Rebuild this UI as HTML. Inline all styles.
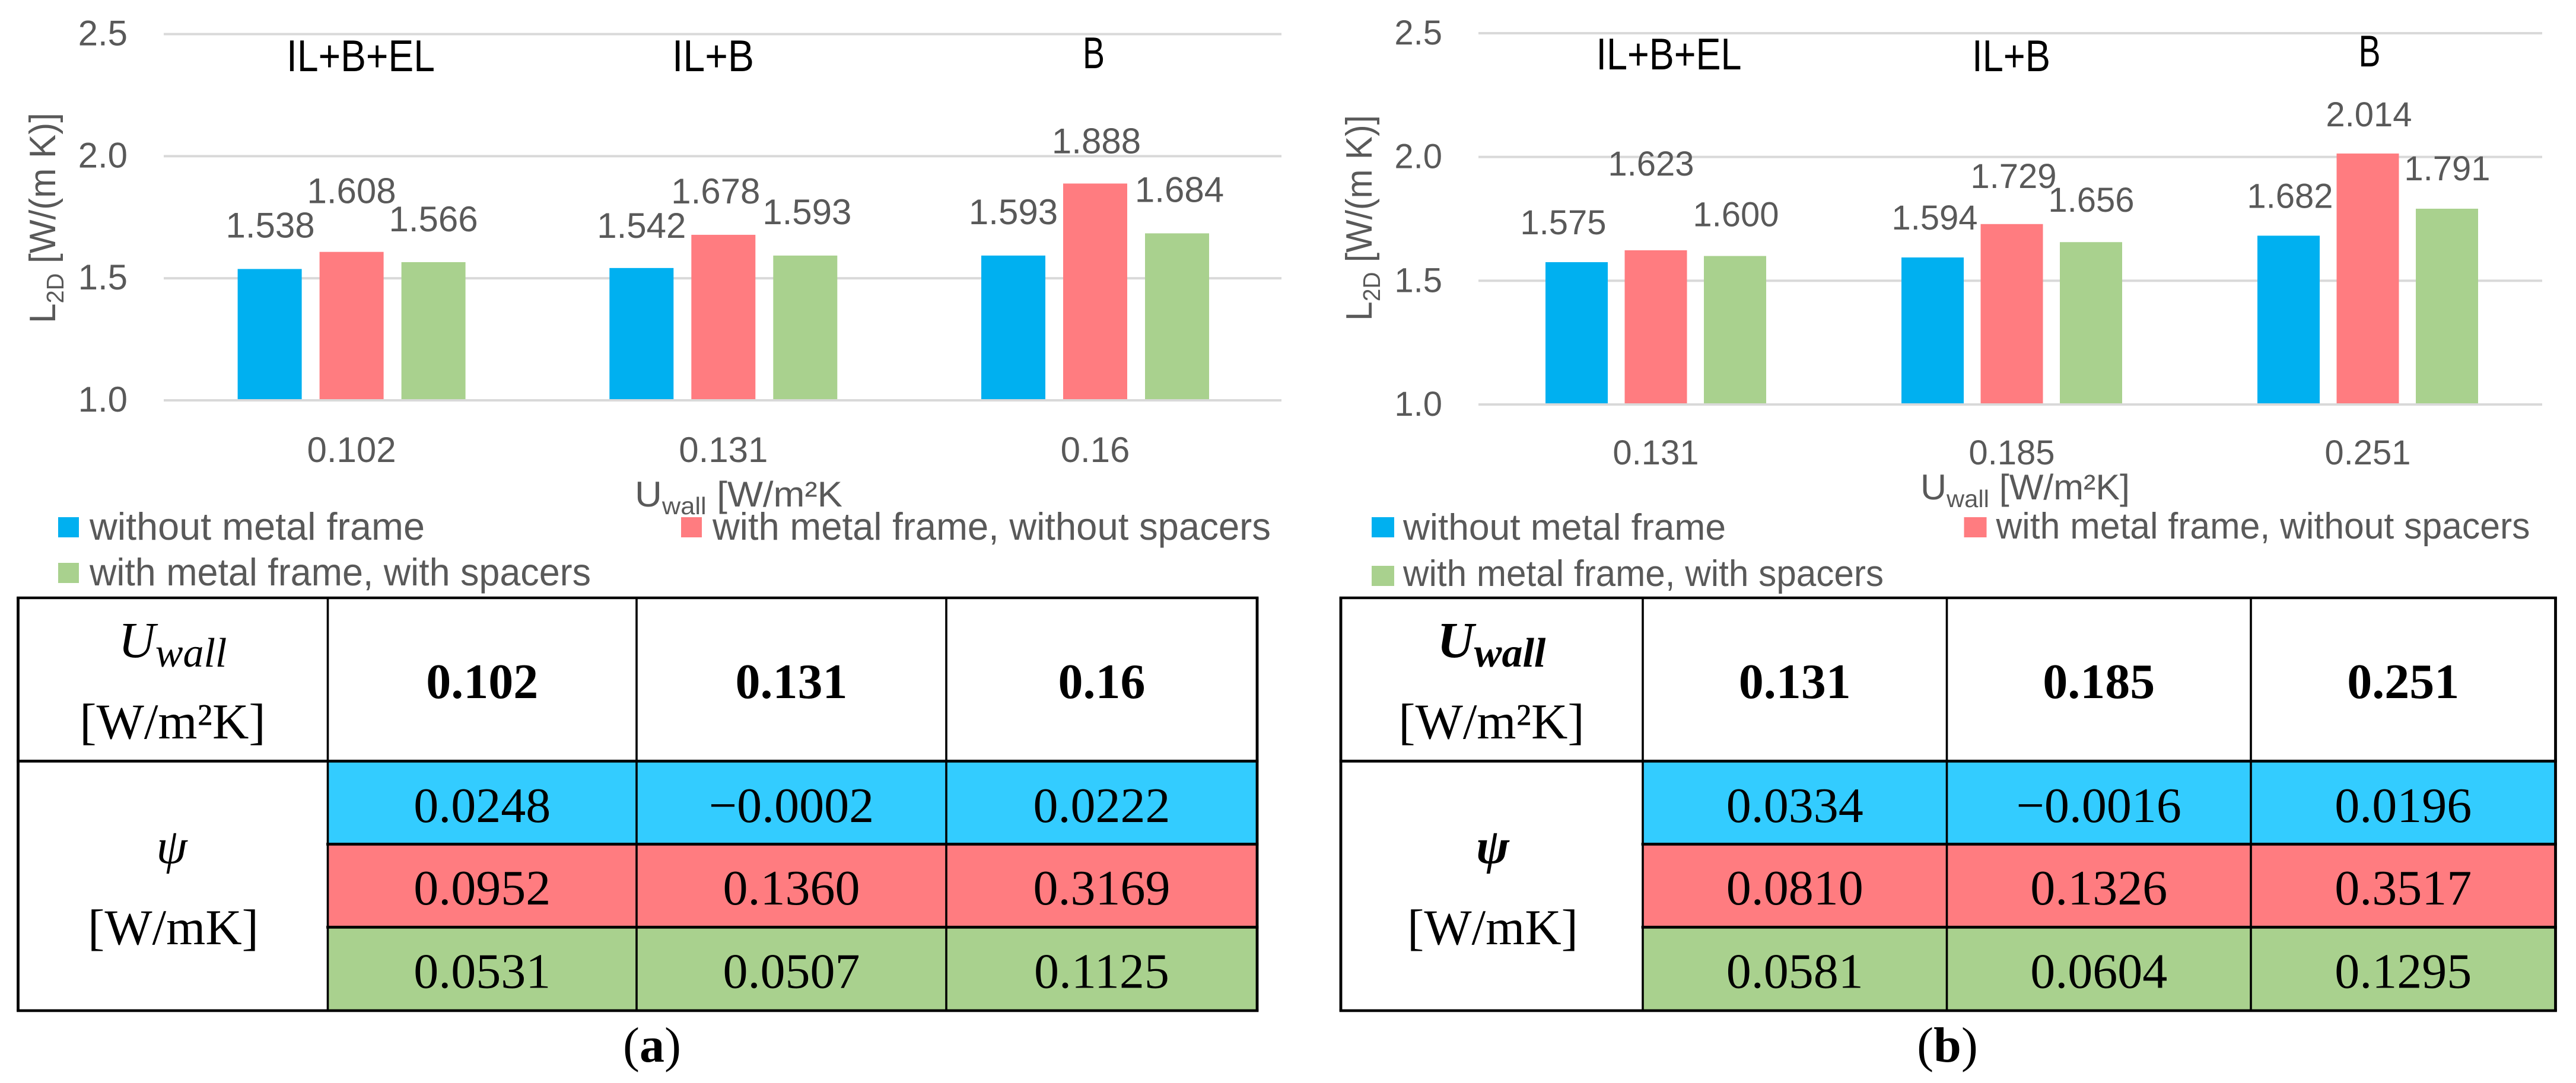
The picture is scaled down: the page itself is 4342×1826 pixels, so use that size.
<!DOCTYPE html>
<html lang="en">
<head>
<meta charset="utf-8">
<title>Linear thermal transmittance charts and tables</title>
<style>
html,body{margin:0;padding:0;background:#fff;width:4342px;height:1826px;overflow:hidden}
svg{display:block}
.g{font-family:"Liberation Sans",sans-serif;fill:#595959}
.h{font-family:"Liberation Sans",sans-serif;fill:#000}
.s{font-family:"Liberation Serif",serif;fill:#000}
</style>
</head>
<body>
<svg id="figure" xmlns="http://www.w3.org/2000/svg" width="4342" height="1826" viewBox="0 0 4342 1826"></svg>
<script>
// ---- chart data ----
const tickLabels = ['1.0', '1.5', '2.0', '2.5'];
const seriesNames = ['without metal frame', 'with metal frame, without spacers', 'with metal frame, with spacers'];

const categoriesA = ['0.102', '0.131', '0.16'];
const headersA = ['IL+B+EL', 'IL+B', 'B'];
const withoutFrameA = [1.538, 1.542, 1.593];
const withoutSpacersA = [1.608, 1.678, 1.888];
const withSpacersA = [1.566, 1.593, 1.684];

const categoriesB = ['0.131', '0.185', '0.251'];
const headersB = ['IL+B+EL', 'IL+B', 'B'];
const withoutFrameB = [1.575, 1.594, 1.682];
const withoutSpacersB = [1.623, 1.729, 2.014];
const withSpacersB = [1.600, 1.656, 1.791];

// ---- table data ----
const psiWithoutFrameA = ['0.0248', '\u22120.0002', '0.0222'];
const psiWithoutSpacersA = ['0.0952', '0.1360', '0.3169'];
const psiWithSpacersA = ['0.0531', '0.0507', '0.1125'];
const psiWithoutFrameB = ['0.0334', '\u22120.0016', '0.0196'];
const psiWithoutSpacersB = ['0.0810', '0.1326', '0.3517'];
const psiWithSpacersB = ['0.0581', '0.0604', '0.1295'];

// ---- styling & layout (not data) ----
const barColors = ['#00B0F0', '#FF7C80', '#A9D18E'];
const cellColors = ['#33CCFF', '#FF7C80', '#A9D18E'];
const seriesKeys = ['without-frame', 'without-spacers', 'with-spacers'];

const layoutA = {
  key: 'a', gridLeft: 276, gridRight: 2160, yBase: 675, yTop: 57.5,
  groupStart: 592.6, groupStep: 626.7, barStep: 138, barWidth: 108,
  fontSize: 60, legendSize: 65, tickRight: 215, tickDrop: 19, catBase: 779,
  nudge: [[1,-53],[0,-82],[0,-52],[0,-51],[-13,-53],[3,-53],[0,-53],[2,-51],[4,-53]],
  headerSpots: [[608,120,250],[1202,120,138],[1843.5,115,37]],
  axisTitle: [1070, 854, 350], axisUnit: ' [W/m\u00B2K',
  yTitle: [93, 545, 355],
  legend: [[98,872,151,910,565],[1148,872,1201,910,941],[98,949,151,987,845]],
  swatch: [35, 34],
  table: { left: 30.5, cols: [552.5, 1073, 1595, 2119], uX: 291, unitX: 291, psiX: 289.5, capX: 1099 }
};
const layoutB = {
  key: 'b', gridLeft: 2492, gridRight: 4285, yBase: 682, yTop: 56,
  groupStart: 2791, groupStep: 600, barStep: 133.5, barWidth: 105,
  fontSize: 58, legendSize: 62.5, tickRight: 2431, tickDrop: 19, catBase: 783,
  nudge: [[-22.5,-47],[-8,-126],[1.5,-50],[3.5,-47],[3,-61],[0.5,-51],[2.5,-47],[2,-46],[0.5,-48]],
  headerSpots: [[2813,117,245],[3390,120,132],[3994,112,37]],
  axisTitle: [3237, 842, 353], axisUnit: ' [W/m\u00B2K]',
  yTitle: [2312, 541, 347],
  legend: [[2312,872,2365,910,544],[3310.5,872,3364.5,908,900],[2312,954,2365,988,810]],
  swatch: [38, 34],
  table: { left: 2260, cols: [2769, 3281.5, 3794, 4307.5], uX: 2514, unitX: 2514, psiX: 2516, capX: 3282.5, boldHead: true }
};

const svg = document.getElementById('figure');
const NS = 'http://www.w3.org/2000/svg';
function make(tag, attrs, parent) {
  const el = document.createElementNS(NS, tag);
  for (const k in attrs) el.setAttribute(k, attrs[k]);
  parent.appendChild(el);
  return el;
}

function drawChart(L, categories, headers, series) {
  const root = make('g', {}, svg);
  
  

  const minV = parseFloat(tickLabels[0]);
  const maxV = parseFloat(tickLabels[tickLabels.length - 1]);
  const yScale = v => L.yBase - (v - minV) / (maxV - minV) * (L.yBase - L.yTop);
  const groupX = i => L.groupStart + i * L.groupStep;
  const barX = (i, s) => groupX(i) + (s - 1) * L.barStep;

  tickLabels.forEach(t => {
    const v = parseFloat(t);
    const line = make('rect', { x: L.gridLeft, y: yScale(v) - 2, width: L.gridRight - L.gridLeft, height: 4, fill: '#D9D9D9' }, root);
    
    
    const label = make('text', { class: 'g', x: L.tickRight, y: yScale(v) + L.tickDrop, 'text-anchor': 'end', 'font-size': L.fontSize }, root);
    
    
    label.textContent = t;
  });

  series.forEach((values, s) => {
    values.forEach((v, i) => {
      const top = yScale(v);
      const bar = make('rect', { x: barX(i, s) - L.barWidth / 2, y: top, width: L.barWidth, height: yScale(minV) - 2 - top, fill: barColors[s] }, root);
      
      
      const n = L.nudge[i * 3 + s];
      const label = make('text', { class: 'g', x: barX(i, s) + n[0], y: top + n[1], 'text-anchor': 'middle', 'font-size': L.fontSize }, root);
      
      
      label.textContent = v.toFixed(3);
    });
  });

  categories.forEach((c, i) => {
    const label = make('text', { class: 'g', x: groupX(i), y: L.catBase, 'text-anchor': 'middle', 'font-size': L.fontSize }, root);
    
    
    label.textContent = c;
  });

  headers.forEach((h, i) => {
    const spot = L.headerSpots[i];
    const label = make('text', { class: 'h', x: spot[0], y: spot[1], 'text-anchor': 'middle', 'font-size': 75, textLength: spot[2], lengthAdjust: 'spacingAndGlyphs' }, root);
    
    
    label.textContent = h;
  });

  const xTitle = make('text', { class: 'g', x: L.axisTitle[0], y: L.axisTitle[1], 'font-size': 60, textLength: L.axisTitle[2], lengthAdjust: 'spacingAndGlyphs' }, root);
  
  
  make('tspan', {}, xTitle).textContent = 'U';
  make('tspan', { dy: 13, 'font-size': 41 }, xTitle).textContent = 'wall';
  make('tspan', { dy: -13 }, xTitle).textContent = L.axisUnit;

  const yTitle = make('text', { class: 'g', transform: 'translate(' + L.yTitle[0] + ',' + L.yTitle[1] + ') rotate(-90)', 'font-size': 62, textLength: L.yTitle[2], lengthAdjust: 'spacingAndGlyphs' }, root);
  
  
  make('tspan', {}, yTitle).textContent = 'L';
  make('tspan', { dy: 14, 'font-size': 41 }, yTitle).textContent = '2D';
  make('tspan', { dy: -14 }, yTitle).textContent = ' [W/(m K)]';

  seriesNames.forEach((name, s) => {
    const p = L.legend[s];
    const entry = make('g', {}, root);
    
    
    const sw = make('rect', { x: p[0], y: p[1], width: L.swatch[0], height: L.swatch[1], fill: barColors[s] }, entry);
    
    
    const tx = make('text', { class: 'g', x: p[2], y: p[3], 'font-size': L.legendSize, textLength: p[4], lengthAdjust: 'spacingAndGlyphs' }, entry);
    
    
    tx.textContent = name;
  });
}

function drawTable(L, categories, rows) {
  const T = L.table;
  const rowLines = [1283.3, 1423.3, 1563.3, 1704];
  const tableTop = 1008;
  const rowBase = [1386, 1525, 1665.5];
  const root = make('g', {}, svg);
  
  

  rows.forEach((row, r) => {
    row.forEach((val, c) => {
      const x0 = T.cols[c], x1 = T.cols[c + 1];
      const cell = make('rect', { x: x0, y: rowLines[r], width: x1 - x0, height: rowLines[r + 1] - rowLines[r], fill: cellColors[r] }, root);
      
      
      const tx = make('text', { class: 's', x: (x0 + x1) / 2, y: rowBase[r], 'text-anchor': 'middle', 'font-size': 84 }, root);
      
      
      tx.textContent = val;
    });
  });

  categories.forEach((c, i) => {
    const tx = make('text', { class: 's', x: (T.cols[i] + T.cols[i + 1]) / 2, y: 1177, 'text-anchor': 'middle', 'font-size': 84, 'font-weight': 'bold' }, root);
    
    
    tx.textContent = c;
  });

  const weight = T.boldHead ? 'bold' : 'normal';
  const u = make('text', { class: 's', x: T.uX, y: 1108, 'text-anchor': 'middle', 'font-size': 86, 'font-style': 'italic', 'font-weight': weight }, root);
  
  
  make('tspan', {}, u).textContent = 'U';
  make('tspan', { dy: 16, 'font-size': 70 }, u).textContent = 'wall';

  const unit1 = make('text', { class: 's', x: T.unitX, y: 1245, 'text-anchor': 'middle', 'font-size': 85 }, root);
  
  
  unit1.textContent = '[W/m\u00B2K]';

  const psi = make('text', { class: 's', x: T.psiX, y: 1455, 'text-anchor': 'middle', 'font-size': 84, 'font-style': 'italic', 'font-weight': weight }, root);
  
  
  psi.textContent = '\u03C8';

  const unit2 = make('text', { class: 's', x: T.unitX + (L.key === 'a' ? 1 : 2), y: 1592, 'text-anchor': 'middle', 'font-size': 85 }, root);
  
  
  unit2.textContent = '[W/mK]';

  const rightEdge = T.cols[3];
  const hLines = [[tableTop, 4.4], [rowLines[0], 4.8], [rowLines[1], 4.8], [rowLines[2], 4.8], [rowLines[3], 4.6]];
  hLines.forEach((h, i) => {
    const x0 = (i === 1 || i === 4 || i === 0) ? T.left : T.cols[0];
    const line = make('rect', { x: x0 - 2.4, y: h[0] - h[1] / 2, width: rightEdge - x0 + 4.8, height: h[1], fill: '#000' }, root);
    
    
  });
  [T.left].concat(T.cols).forEach((x, i) => {
    const w = (i === 0 || i === 4) ? 4.8 : 3.6;
    const line = make('rect', { x: x - w / 2, y: tableTop, width: w, height: rowLines[3] - tableTop, fill: '#000' }, root);
    
    
  });

  const cap = make('text', { class: 's', x: T.capX, y: 1790, 'text-anchor': 'middle', 'font-size': 84 }, root);
  
  
  make('tspan', {}, cap).textContent = '(';
  make('tspan', { 'font-weight': 'bold' }, cap).textContent = L.key;
  make('tspan', {}, cap).textContent = ')';
}

drawChart(layoutA, categoriesA, headersA, [withoutFrameA, withoutSpacersA, withSpacersA]);
drawChart(layoutB, categoriesB, headersB, [withoutFrameB, withoutSpacersB, withSpacersB]);
drawTable(layoutA, categoriesA, [psiWithoutFrameA, psiWithoutSpacersA, psiWithSpacersA]);
drawTable(layoutB, categoriesB, [psiWithoutFrameB, psiWithoutSpacersB, psiWithSpacersB]);
</script>
</body>
</html>
